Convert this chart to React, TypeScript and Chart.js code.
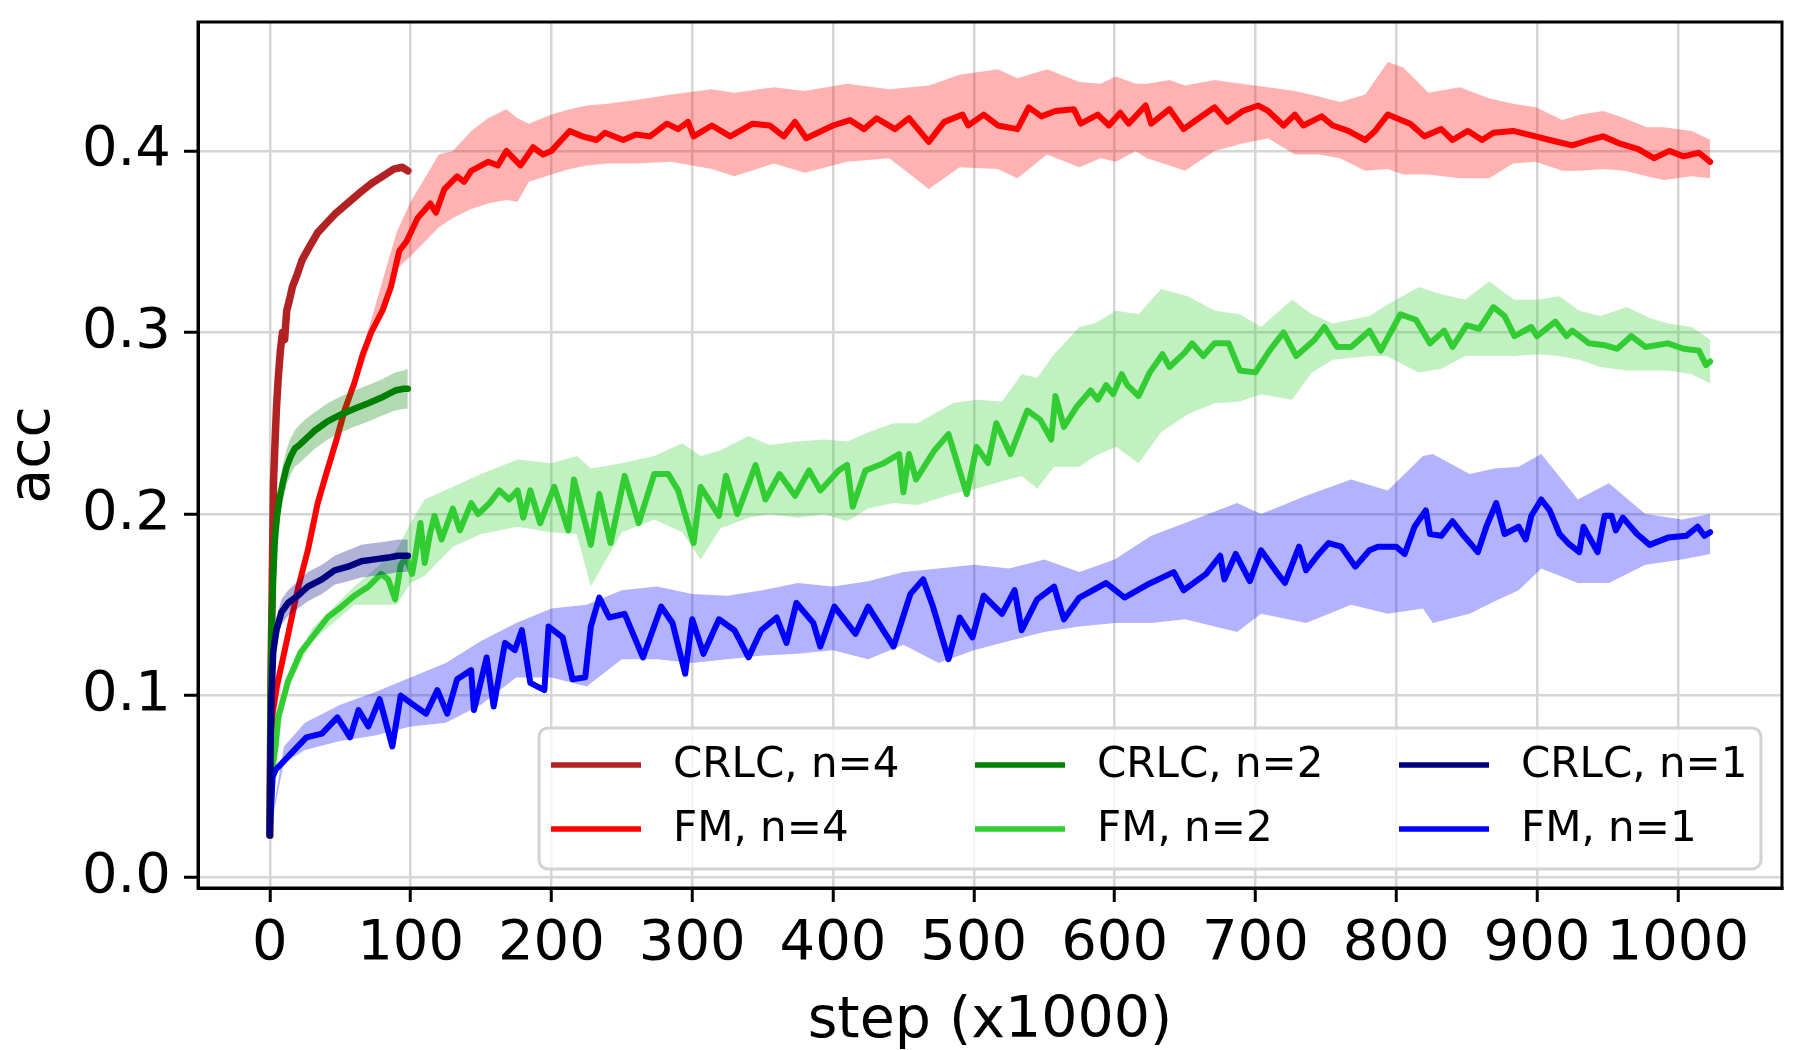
import React, { useEffect, useRef } from 'react';
import { Chart, registerables } from 'chart.js';

Chart.register(...registerables);

// ---------- axis ticks ----------
const xTicks = [0, 100, 200, 300, 400, 500, 600, 700, 800, 900, 1000];
const yTicks = [0, 0.1, 0.2, 0.3, 0.4];
const xTitle = 'step (x1000)';
const yTitle = 'acc';

// ---------- FM, n=4 ----------
const fm4Steps = [0, 2, 5, 12, 20, 27, 34, 40, 47, 53, 60, 66, 72, 80, 86, 92, 97, 105, 114, 118, 124, 133, 138, 143, 155, 162, 168, 178, 187, 194, 200, 213, 222, 232, 238, 251, 260, 270, 282, 290, 297, 301, 314, 327, 343, 355, 365, 373, 381, 400, 412, 422, 431, 444, 454, 468, 479, 492, 496, 507, 517, 531, 539, 548, 558, 571, 576, 588, 596, 604, 610, 622, 626, 639, 649, 658, 671, 680, 691, 702, 709, 720, 728, 734, 747, 755, 766, 778, 785, 794, 810, 820, 832, 840, 851, 861, 869, 883, 899, 909, 925, 937, 947, 959, 972, 983, 994, 1004, 1015, 1023];
const fm4Mean = [0.03, 0.09, 0.105, 0.13, 0.159, 0.18, 0.206, 0.222, 0.24, 0.257, 0.272, 0.288, 0.3, 0.312, 0.325, 0.345, 0.35, 0.363, 0.371, 0.366, 0.379, 0.386, 0.383, 0.389, 0.394, 0.392, 0.4, 0.392, 0.402, 0.398, 0.4, 0.411, 0.408, 0.406, 0.41, 0.406, 0.409, 0.408, 0.415, 0.412, 0.416, 0.408, 0.414, 0.408, 0.415, 0.414, 0.408, 0.416, 0.407, 0.414, 0.417, 0.412, 0.418, 0.412, 0.418, 0.405, 0.416, 0.42, 0.414, 0.42, 0.414, 0.412, 0.424, 0.419, 0.422, 0.423, 0.415, 0.42, 0.414, 0.421, 0.415, 0.425, 0.415, 0.423, 0.412, 0.417, 0.424, 0.416, 0.422, 0.425, 0.422, 0.414, 0.42, 0.414, 0.419, 0.414, 0.411, 0.406, 0.411, 0.42, 0.415, 0.408, 0.412, 0.406, 0.411, 0.406, 0.41, 0.411, 0.408, 0.406, 0.403, 0.406, 0.408, 0.404, 0.401, 0.396, 0.4, 0.397, 0.399, 0.394];
const fm4BandSteps = [0, 10, 30, 60, 90, 100, 110, 120, 130, 143, 155, 168, 176, 184, 200, 213, 225, 240, 260, 285, 314, 330, 358, 380, 410, 440, 468, 490, 517, 531, 552, 575, 590, 601, 615, 623, 639, 650, 671, 690, 709, 728, 745, 760, 778, 794, 805, 823, 845, 866, 883, 899, 918, 931, 947, 962, 978, 990, 1010, 1023];
const fm4Hi = [0.03, 0.128, 0.196, 0.275, 0.355, 0.372, 0.385, 0.398, 0.4, 0.411, 0.418, 0.423, 0.418, 0.415, 0.42, 0.423, 0.425, 0.426, 0.428, 0.431, 0.434, 0.432, 0.435, 0.433, 0.437, 0.434, 0.436, 0.442, 0.445, 0.44, 0.445, 0.438, 0.437, 0.441, 0.437, 0.437, 0.439, 0.436, 0.439, 0.437, 0.435, 0.433, 0.43, 0.427, 0.431, 0.449, 0.446, 0.432, 0.435, 0.429, 0.426, 0.424, 0.417, 0.42, 0.422, 0.418, 0.413, 0.413, 0.411, 0.406];
const fm4Lo = [0.03, 0.125, 0.19, 0.268, 0.335, 0.342, 0.35, 0.358, 0.363, 0.368, 0.371, 0.373, 0.372, 0.383, 0.387, 0.39, 0.392, 0.393, 0.393, 0.394, 0.39, 0.386, 0.393, 0.388, 0.394, 0.396, 0.379, 0.391, 0.39, 0.385, 0.398, 0.391, 0.396, 0.394, 0.4, 0.396, 0.392, 0.389, 0.4, 0.404, 0.407, 0.398, 0.398, 0.396, 0.389, 0.39, 0.387, 0.387, 0.385, 0.385, 0.393, 0.394, 0.389, 0.389, 0.39, 0.389, 0.386, 0.384, 0.386, 0.385];

// ---------- CRLC, n=4 ----------
const crlc4Steps = [0, 0.5, 1, 1.7, 2.6, 3.5, 4.7, 6, 7.5, 9, 10.5, 12, 14, 16, 19, 23, 28, 34, 40, 46, 52, 58, 64, 72, 80, 88, 94, 98];
const crlc4Mean = [0.023, 0.07, 0.12, 0.16, 0.217, 0.235, 0.258, 0.275, 0.29, 0.3, 0.296, 0.312, 0.318, 0.325, 0.331, 0.34, 0.347, 0.355, 0.36, 0.365, 0.369, 0.373, 0.377, 0.382, 0.386, 0.39, 0.391, 0.389];

// ---------- FM, n=2 ----------
const fm2Steps = [0, 2, 4, 6, 13, 22, 32, 41, 51, 60, 70, 79, 84, 89, 93, 97, 101, 104, 107, 110, 114, 117, 122, 130, 135, 143, 148, 156, 163, 170, 176, 180, 185, 192, 202, 212, 216, 228, 234, 242, 252, 262, 273, 283, 290, 301, 306, 319, 324, 332, 345, 352, 362, 373, 383, 391, 404, 410, 414, 423, 436, 447, 450, 454, 459, 472, 482, 495, 502, 510, 516, 526, 538, 547, 555, 558, 564, 573, 583, 588, 594, 599, 605, 609, 617, 625, 634, 639, 650, 655, 663, 671, 681, 689, 700, 710, 720, 729, 742, 749, 758, 768, 781, 789, 803, 814, 824, 834, 840, 850, 859, 869, 877, 884, 896, 900, 913, 921, 925, 937, 948, 957, 967, 977, 993, 1004, 1015, 1020, 1023];
const fm2Mean = [0.023, 0.06, 0.072, 0.088, 0.108, 0.124, 0.134, 0.143, 0.149, 0.155, 0.16, 0.167, 0.164, 0.153, 0.172, 0.176, 0.167, 0.18, 0.195, 0.173, 0.19, 0.199, 0.186, 0.203, 0.191, 0.206, 0.2, 0.206, 0.213, 0.208, 0.213, 0.198, 0.213, 0.195, 0.215, 0.191, 0.219, 0.183, 0.211, 0.184, 0.221, 0.195, 0.222, 0.222, 0.213, 0.184, 0.215, 0.199, 0.221, 0.2, 0.227, 0.208, 0.222, 0.21, 0.224, 0.213, 0.224, 0.227, 0.204, 0.224, 0.228, 0.233, 0.212, 0.233, 0.219, 0.235, 0.244, 0.211, 0.237, 0.228, 0.25, 0.233, 0.257, 0.252, 0.241, 0.265, 0.248, 0.259, 0.268, 0.263, 0.271, 0.266, 0.277, 0.271, 0.265, 0.278, 0.288, 0.281, 0.289, 0.294, 0.287, 0.294, 0.294, 0.279, 0.278, 0.29, 0.3, 0.287, 0.296, 0.303, 0.292, 0.292, 0.301, 0.29, 0.31, 0.307, 0.294, 0.301, 0.292, 0.304, 0.302, 0.314, 0.309, 0.298, 0.303, 0.298, 0.306, 0.298, 0.301, 0.294, 0.293, 0.291, 0.298, 0.292, 0.294, 0.291, 0.29, 0.282, 0.284];
const fm2BandSteps = [0, 10, 30, 60, 90, 100, 110, 130, 150, 176, 200, 218, 228, 250, 273, 293, 306, 320, 340, 355, 375, 394, 410, 425, 443, 460, 485, 502, 520, 534, 545, 557, 575, 586, 601, 617, 633, 652, 671, 689, 704, 726, 740, 755, 781, 793, 816, 832, 849, 866, 884, 900, 916, 930, 945, 964, 980, 993, 1010, 1023];
const fm2Hi = [0.023, 0.105, 0.137, 0.16, 0.18, 0.195, 0.208, 0.215, 0.222, 0.23, 0.228, 0.232, 0.225, 0.228, 0.232, 0.239, 0.232, 0.235, 0.243, 0.238, 0.24, 0.241, 0.24, 0.245, 0.25, 0.25, 0.261, 0.263, 0.262, 0.277, 0.275, 0.288, 0.303, 0.305, 0.312, 0.31, 0.324, 0.32, 0.312, 0.31, 0.303, 0.318, 0.31, 0.305, 0.309, 0.315, 0.325, 0.321, 0.318, 0.328, 0.318, 0.318, 0.32, 0.312, 0.309, 0.314, 0.308, 0.305, 0.303, 0.296];
const fm2Lo = [0.023, 0.1, 0.13, 0.15, 0.15, 0.162, 0.166, 0.182, 0.189, 0.193, 0.19, 0.189, 0.16, 0.19, 0.197, 0.19, 0.175, 0.192, 0.198, 0.2, 0.198, 0.2, 0.196, 0.203, 0.206, 0.205, 0.211, 0.214, 0.218, 0.221, 0.214, 0.226, 0.226, 0.232, 0.237, 0.228, 0.245, 0.255, 0.261, 0.262, 0.266, 0.263, 0.278, 0.285, 0.287, 0.287, 0.278, 0.28, 0.287, 0.287, 0.287, 0.288, 0.287, 0.285, 0.281, 0.279, 0.279, 0.279, 0.277, 0.272];

// ---------- CRLC, n=2 ----------
const crlc2Steps = [0, 0.5, 1.2, 2.4, 3.5, 5, 7, 9.5, 12, 15, 17.7, 21, 25, 32, 41, 51, 60, 70, 79, 89, 95, 98];
const crlc2Mean = [0.023, 0.09, 0.136, 0.165, 0.185, 0.198, 0.209, 0.218, 0.226, 0.232, 0.236, 0.238, 0.241, 0.246, 0.251, 0.255, 0.258, 0.261, 0.264, 0.268, 0.269, 0.269];
const crlc2Hi = [0.023, 0.09, 0.14, 0.172, 0.192, 0.206, 0.218, 0.228, 0.236, 0.242, 0.246, 0.249, 0.252, 0.256, 0.261, 0.265, 0.268, 0.271, 0.274, 0.278, 0.279, 0.28];
const crlc2Lo = [0.023, 0.088, 0.13, 0.158, 0.178, 0.19, 0.2, 0.208, 0.216, 0.222, 0.226, 0.228, 0.231, 0.236, 0.241, 0.245, 0.248, 0.251, 0.254, 0.257, 0.258, 0.258];

// ---------- FM, n=1 ----------
const fm1Steps = [0, 2, 4, 15, 26, 37, 48, 57, 63, 70, 78, 87, 93, 100, 111, 119, 126, 133, 143, 145, 154, 159, 167, 174, 179, 185, 195, 198, 208, 215, 224, 228, 234, 241, 252, 265, 278, 286, 295, 300, 308, 319, 330, 340, 349, 360, 367, 374, 386, 391, 401, 416, 425, 434, 443, 455, 464, 471, 482, 490, 499, 507, 520, 529, 534, 545, 557, 564, 575, 594, 607, 623, 642, 649, 665, 675, 678, 686, 696, 704, 716, 721, 731, 736, 745, 752, 761, 771, 781, 787, 800, 806, 813, 821, 824, 832, 840, 848, 858, 864, 871, 877, 887, 892, 896, 903, 909, 916, 922, 930, 933, 943, 948, 953, 956, 961, 971, 980, 993, 1006, 1014, 1019, 1023];
const fm1Mean = [0.025, 0.055, 0.059, 0.068, 0.077, 0.079, 0.088, 0.077, 0.092, 0.083, 0.098, 0.072, 0.1, 0.096, 0.09, 0.103, 0.09, 0.109, 0.114, 0.092, 0.121, 0.094, 0.129, 0.125, 0.136, 0.107, 0.103, 0.138, 0.132, 0.109, 0.11, 0.138, 0.154, 0.143, 0.145, 0.121, 0.149, 0.14, 0.112, 0.142, 0.123, 0.142, 0.136, 0.121, 0.136, 0.143, 0.129, 0.151, 0.14, 0.127, 0.149, 0.134, 0.149, 0.138, 0.127, 0.156, 0.164, 0.149, 0.12, 0.143, 0.132, 0.155, 0.145, 0.158, 0.136, 0.153, 0.16, 0.142, 0.154, 0.162, 0.154, 0.161, 0.168, 0.158, 0.167, 0.177, 0.164, 0.178, 0.163, 0.18, 0.167, 0.162, 0.182, 0.169, 0.178, 0.184, 0.182, 0.171, 0.18, 0.182, 0.182, 0.178, 0.193, 0.202, 0.189, 0.188, 0.196, 0.188, 0.179, 0.193, 0.206, 0.189, 0.193, 0.186, 0.199, 0.208, 0.202, 0.189, 0.184, 0.179, 0.193, 0.179, 0.199, 0.199, 0.191, 0.198, 0.189, 0.183, 0.187, 0.188, 0.193, 0.188, 0.19];
const fm1BandSteps = [0, 10, 25, 50, 75, 100, 125, 150, 175, 200, 225, 250, 275, 300, 325, 350, 375, 400, 425, 450, 475, 500, 525, 550, 575, 600, 626, 650, 687, 704, 736, 768, 794, 819, 826, 852, 870, 887, 903, 929, 951, 977, 1003, 1023];
const fm1Hi = [0.025, 0.072, 0.085, 0.095, 0.102, 0.11, 0.118, 0.13, 0.14, 0.148, 0.15, 0.158, 0.16, 0.156, 0.155, 0.158, 0.162, 0.16, 0.163, 0.168, 0.17, 0.172, 0.17, 0.175, 0.168, 0.175, 0.188, 0.195, 0.206, 0.2, 0.21, 0.219, 0.213, 0.232, 0.233, 0.222, 0.225, 0.226, 0.233, 0.208, 0.217, 0.2, 0.197, 0.2];
const fm1Lo = [0.025, 0.063, 0.07, 0.075, 0.078, 0.083, 0.085, 0.095, 0.11, 0.11, 0.105, 0.12, 0.12, 0.118, 0.12, 0.122, 0.123, 0.125, 0.12, 0.128, 0.118, 0.125, 0.13, 0.135, 0.138, 0.14, 0.14, 0.142, 0.135, 0.145, 0.14, 0.15, 0.145, 0.148, 0.14, 0.145, 0.152, 0.158, 0.17, 0.162, 0.162, 0.172, 0.175, 0.178];

// ---------- CRLC, n=1 ----------
const crlc1Steps = [0, 0.5, 1.2, 2.4, 4.7, 8.3, 13, 20, 27, 37, 46, 55.5, 65, 74.5, 84, 91, 98];
const crlc1Mean = [0.023, 0.07, 0.099, 0.124, 0.136, 0.146, 0.151, 0.155, 0.16, 0.164, 0.169, 0.171, 0.174, 0.175, 0.176, 0.177, 0.177];
const crlc1Hi = [0.023, 0.072, 0.103, 0.13, 0.143, 0.153, 0.158, 0.163, 0.168, 0.172, 0.177, 0.18, 0.183, 0.184, 0.185, 0.186, 0.186];
const crlc1Lo = [0.023, 0.068, 0.095, 0.118, 0.13, 0.139, 0.144, 0.148, 0.152, 0.156, 0.161, 0.163, 0.165, 0.166, 0.167, 0.168, 0.168];

type SeriesDef = {
  label: string;
  color: string;
  bandColor: string;
  width: number;
  steps: number[];
  mean: number[];
  bandSteps?: number[];
  hi?: number[];
  lo?: number[];
};

// drawing order: first = bottom
const seriesDefs: SeriesDef[] = [
  { label: 'FM, n=4', color: '#ff0000', bandColor: 'rgba(255,0,0,0.3)', width: 6, steps: fm4Steps, mean: fm4Mean, bandSteps: fm4BandSteps, hi: fm4Hi, lo: fm4Lo },
  { label: 'CRLC, n=4', color: '#b22222', bandColor: 'rgba(178,34,34,0.3)', width: 7.5, steps: crlc4Steps, mean: crlc4Mean },
  { label: 'FM, n=2', color: '#32cd32', bandColor: 'rgba(50,205,50,0.3)', width: 6, steps: fm2Steps, mean: fm2Mean, bandSteps: fm2BandSteps, hi: fm2Hi, lo: fm2Lo },
  { label: 'CRLC, n=2', color: '#008000', bandColor: 'rgba(0,128,0,0.3)', width: 6.5, steps: crlc2Steps, mean: crlc2Mean, bandSteps: crlc2Steps, hi: crlc2Hi, lo: crlc2Lo },
  { label: 'FM, n=1', color: '#0000ff', bandColor: 'rgba(0,0,255,0.3)', width: 6, steps: fm1Steps, mean: fm1Mean, bandSteps: fm1BandSteps, hi: fm1Hi, lo: fm1Lo },
  { label: 'CRLC, n=1', color: '#000080', bandColor: 'rgba(0,0,128,0.3)', width: 6.5, steps: crlc1Steps, mean: crlc1Mean, bandSteps: crlc1Steps, hi: crlc1Hi, lo: crlc1Lo },
];

const legendColumns = [
  ['CRLC, n=4', 'FM, n=4'],
  ['CRLC, n=2', 'FM, n=2'],
  ['CRLC, n=1', 'FM, n=1'],
];

const FONT = "'DejaVu Sans', 'Liberation Sans', sans-serif";

function buildDatasets() {
  const ds: any[] = [];
  const push = (d: any) => {
    d.order = -ds.length;
    ds.push(d);
    return ds.length - 1;
  };
  seriesDefs.forEach((s) => {
    if (s.bandSteps && s.hi && s.lo) {
      const loIdx = push({
        label: s.label + ' lo',
        data: s.bandSteps.map((x, i) => ({ x, y: s.lo![i] })),
        borderWidth: 0,
        pointRadius: 0,
        fill: false,
        borderColor: 'rgba(0,0,0,0)',
      });
      push({
        label: s.label + ' hi',
        data: s.bandSteps.map((x, i) => ({ x, y: s.hi![i] })),
        borderWidth: 0,
        pointRadius: 0,
        fill: loIdx,
        borderColor: 'rgba(0,0,0,0)',
        backgroundColor: s.bandColor,
      });
    }
    push({
      label: s.label,
      data: s.steps.map((x, i) => ({ x, y: s.mean[i] })),
      borderColor: s.color,
      borderWidth: s.width,
      pointRadius: 0,
      fill: false,
      tension: 0,
      borderJoinStyle: 'round',
      borderCapStyle: 'round',
    });
  });
  return ds;
}

const framePlugin = {
  id: 'mplFrame',
  afterDatasetsDraw(chart: any) {
    const { ctx, chartArea: ca } = chart;
    ctx.save();
    ctx.strokeStyle = '#000000';
    ctx.lineWidth = 3;
    ctx.strokeRect(ca.left, ca.top, ca.right - ca.left, ca.bottom - ca.top);
    ctx.restore();
  },
};

const legendPlugin = {
  id: 'mplLegend',
  afterDraw(chart: any) {
    const { ctx, chartArea: ca } = chart;
    const w = 1222;
    const h = 141;
    const right = ca.right - 21;
    const bottom = ca.bottom - 19;
    const left = right - w;
    const top = bottom - h;
    ctx.save();
    ctx.beginPath();
    if (ctx.roundRect) ctx.roundRect(left, top, w, h, 9);
    else ctx.rect(left, top, w, h);
    ctx.fillStyle = 'rgba(255,255,255,0.8)';
    ctx.fill();
    ctx.lineWidth = 3;
    ctx.strokeStyle = '#d2d2d2';
    ctx.stroke();
    ctx.font = `42px ${FONT}`;
    ctx.textBaseline = 'middle';
    ctx.textAlign = 'left';
    legendColumns.forEach((col, ci) => {
      col.forEach((label, ri) => {
        const def = seriesDefs.find((d) => d.label === label)!;
        const y = top + 37 + ri * 64;
        const hx = left + 12 + ci * 424;
        ctx.beginPath();
        ctx.moveTo(hx, y);
        ctx.lineTo(hx + 90, y);
        ctx.strokeStyle = def.color;
        ctx.lineWidth = 5.5;
        ctx.lineCap = 'butt';
        ctx.stroke();
        ctx.fillStyle = '#000000';
        ctx.fillText(label, left + 134 + ci * 424, y + 1);
      });
    });
    ctx.restore();
  },
};

export default function App() {
  const ref = useRef<HTMLCanvasElement>(null);
  useEffect(() => {
    document.body.style.margin = '0';
    document.body.style.overflow = 'hidden';
    const chart = new Chart(ref.current!, {
      type: 'line',
      data: { datasets: buildDatasets() },
      options: {
        animation: false,
        responsive: false,
        devicePixelRatio: 1,
        layout: { padding: { top: 22, right: 18, left: 0, bottom: 0 } },
        plugins: {
          legend: { display: false },
          tooltip: { enabled: false },
          filler: { propagate: false },
        },
        scales: {
          x: {
            type: 'linear',
            min: -51,
            max: 1074,
            afterFit: (scale: any) => {
              scale.height = 162;
              scale.paddingLeft = 0;
              scale.paddingRight = 0;
            },
            afterBuildTicks: (scale: any) => {
              scale.ticks = xTicks.map((v) => ({ value: v }));
            },
            ticks: {
              font: { family: FONT, size: 56 },
              color: '#000000',
              padding: 9,
              maxRotation: 0,
              autoSkip: false,
              callback: (v: any) => String(v),
            },
            grid: {
              color: '#d6d6d6',
              lineWidth: 2.5,
              tickLength: 14,
              tickColor: '#000000',
              tickWidth: 3,
            },
            border: { display: true, color: '#000000', width: 3 },
            title: {
              display: true,
              text: xTitle,
              font: { family: FONT, size: 57 },
              color: '#000000',
              padding: { top: -6, bottom: -6 },
            },
          },
          y: {
            type: 'linear',
            min: -0.006,
            max: 0.471,
            afterFit: (scale: any) => {
              scale.width = 198;
              scale.paddingTop = 0;
              scale.paddingBottom = 0;
            },
            afterBuildTicks: (scale: any) => {
              scale.ticks = yTicks.map((v) => ({ value: v }));
            },
            ticks: {
              font: { family: FONT, size: 56 },
              color: '#000000',
              padding: 13,
              autoSkip: false,
              callback: (v: any) => Number(v).toFixed(1),
            },
            grid: {
              color: '#d6d6d6',
              lineWidth: 2.5,
              tickLength: 14,
              tickColor: '#000000',
              tickWidth: 3,
            },
            border: { display: true, color: '#000000', width: 3 },
            title: {
              display: true,
              text: yTitle,
              font: { family: FONT, size: 57 },
              color: '#000000',
              padding: { top: 0, bottom: 0 },
            },
          },
        },
      },
      plugins: [framePlugin, legendPlugin],
    } as any);
    return () => chart.destroy();
  }, []);
  return (
    <div style={{ width: 1800, height: 1050, background: '#ffffff' }}>
      <canvas ref={ref} width={1800} height={1050} style={{ display: 'block', width: 1800, height: 1050 }} />
    </div>
  );
}
